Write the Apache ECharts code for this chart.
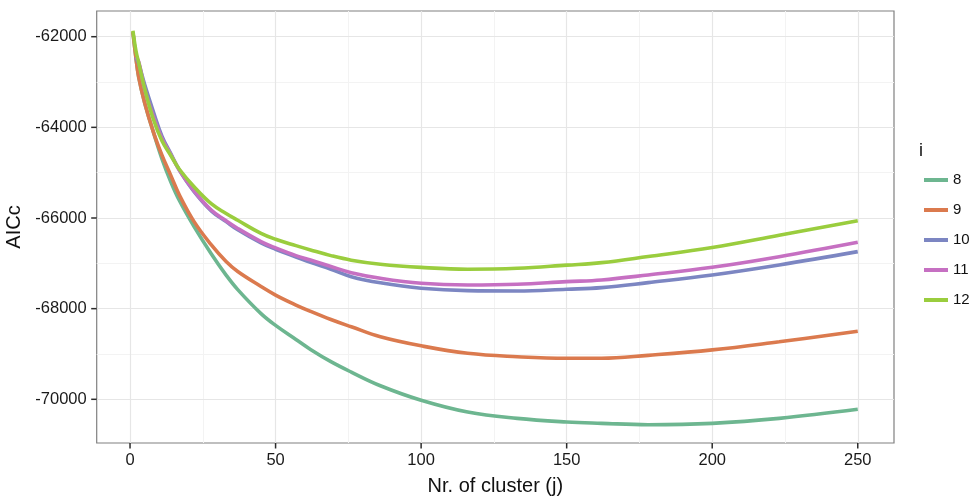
<!DOCTYPE html>
<html>
<head>
<meta charset="utf-8">
<script src="https://cdn.jsdelivr.net/npm/echarts@6/dist/echarts.min.js"></script>
<style>html,body{margin:0;padding:0;background:#fff}#c{width:970px;height:498px}</style>
</head>
<body>
<div id="c"></div>
<script>
// Number of clusters j (x values)
var clusterJ = [1, 2, 3, 5, 8, 11, 14, 17, 22, 28, 33, 37, 45, 50, 57, 62, 69, 76, 86, 100, 116, 133, 150, 162, 178, 200, 223, 250];
// AICc per series i
var aic8  = [-61900, -62450, -62900, -63450, -64100, -64700, -65200, -65620, -66190, -66800, -67260, -67580, -68110, -68370, -68680, -68900, -69170, -69400, -69700, -70020, -70280, -70420, -70500, -70530, -70560, -70530, -70420, -70220];
var aic9  = [-61900, -62450, -62900, -63450, -64100, -64620, -65060, -65500, -66080, -66600, -66960, -67180, -67510, -67700, -67920, -68060, -68240, -68400, -68620, -68820, -68985, -69060, -69095, -69095, -69030, -68910, -68730, -68500];
var aic10 = [null, -62450, -62600, -63050, -63650, -64200, -64580, -64950, -65420, -65850, -66080, -66260, -66550, -66690, -66860, -66980, -67130, -67294, -67430, -67550, -67603, -67610, -67572, -67537, -67426, -67257, -67036, -66742];
var aic11 = [null, -62450, -62550, -63150, -63750, -64250, -64600, -64950, -65400, -65830, -66060, -66230, -66520, -66660, -66830, -66926, -67070, -67206, -67330, -67440, -67477, -67462, -67404, -67367, -67257, -67087, -66853, -66536];
var aic12 = [-61870, -62300, -62580, -63140, -63820, -64300, -64620, -64930, -65310, -65690, -65900, -66050, -66340, -66470, -66610, -66705, -66830, -66930, -67020, -67090, -67130, -67110, -67040, -66985, -66850, -66650, -66380, -66060];
var seriesNames = ['8', '9', '10', '11', '12'];
var xTicks = [0, 50, 100, 150, 200, 250];
var xMinor = [25, 75, 125, 175, 225];
var yTicks = [-70000, -68000, -66000, -64000, -62000];
var yMinor = [-69000, -67000, -65000, -63000];
var xRange = [-11.45, 262.45];
var yRange = [-70964, -61433];

var colors = ['#6db690', '#db7a4e', '#7c86c2', '#c670c2', '#9acd3e'];
var allVals = [aic8, aic9, aic10, aic11, aic12];

var FONT = '"Liberation Sans", Arial, sans-serif';
var chart = echarts.init(document.getElementById('c'), null, {renderer: 'canvas'});

function pairs(v) { return clusterJ.map(function (x, k) { return [x, v[k]]; }).filter(function(p){return p[1]!=null;}); }

var gridMarks = [];
xMinor.forEach(function (v) { gridMarks.push({xAxis: v, lineStyle: {color: '#f3f3f3', width: 1}}); });
yMinor.forEach(function (v) { gridMarks.push({yAxis: v, lineStyle: {color: '#f3f3f3', width: 1}}); });
xTicks.forEach(function (v) { gridMarks.push({xAxis: v, lineStyle: {color: '#e6e6e6', width: 1.2}}); });
yTicks.forEach(function (v) { gridMarks.push({yAxis: v, lineStyle: {color: '#e6e6e6', width: 1.2}}); });

var series = [{
  type: 'line', data: [], silent: true, z: 0,
  markLine: {silent: true, z: 0, symbol: ['none', 'none'], label: {show: false}, emphasis: {disabled: true}, animation: false, data: gridMarks, lineStyle: {type: 'solid'}}
}];
seriesNames.forEach(function (n, i) {
  series.push({
    name: n, type: 'line', data: pairs(allVals[i]), showSymbol: false, symbol: 'none',
    smooth: 0.4, z: 2 + i,
    lineStyle: {color: colors[i], width: 3.6}, itemStyle: {color: colors[i]}
  });
});

var axisLineStyle = {show: false, onZero: false};

chart.setOption({
  animation: false,
  backgroundColor: '#fff',
  color: colors,
  title: {text: 'i', left: 914, top: 137, textStyle: {fontFamily: FONT, fontSize: 18, fontWeight: 'normal', color: '#111'}},
  legend: {
    orient: 'vertical', left: 919, top: 165, itemWidth: 24, itemHeight: 4, icon: 'rect', itemGap: 10,
    data: seriesNames,
    textStyle: {fontFamily: FONT, fontSize: 15, color: '#111', lineHeight: 20, padding: [0, 0, 0, 0]},
    selectedMode: false
  },
  grid: {left: 96.7, right: 76, top: 11, bottom: 55, outerBoundsMode: 'none', containLabel: false, show: true, borderColor: '#808080', borderWidth: 1.2, backgroundColor: 'transparent'},
  xAxis: {
    type: 'value', min: xRange[0], max: xRange[1],
    name: 'Nr. of cluster (j)', nameLocation: 'middle', nameGap: 33,
    nameTextStyle: {fontFamily: FONT, fontSize: 20, color: '#111'},
    axisLine: axisLineStyle,
    axisTick: {show: false},
    axisLabel: {customValues: xTicks, margin: 9, fontFamily: FONT, fontSize: 16.5, color: '#1a1a1a', formatter: function (v) { return String(v); }},
    splitLine: {show: false}
  },
  yAxis: {
    type: 'value', min: yRange[0], max: yRange[1],
    name: 'AICc', nameLocation: 'middle', nameGap: 70, nameRotate: 90,
    nameTextStyle: {fontFamily: FONT, fontSize: 20, color: '#111'},
    axisLine: axisLineStyle,
    axisTick: {show: false},
    axisLabel: {customValues: yTicks, margin: 10, fontFamily: FONT, fontSize: 16.5, color: '#1a1a1a', formatter: function (v) { return String(v); }},
    splitLine: {show: false}
  },
  series: series
});

// tick marks placed through the chart's own axis scales
var tickGraphics = [];
xTicks.forEach(function (v) {
  var p = chart.convertToPixel({gridIndex: 0}, [v, yRange[0]]);
  tickGraphics.push({type: 'line', z: 100, silent: true, shape: {x1: p[0], y1: p[1], x2: p[0], y2: p[1] + 5.5}, style: {stroke: '#2b2b2b', lineWidth: 1.5}});
});
yTicks.forEach(function (v) {
  var p = chart.convertToPixel({gridIndex: 0}, [xRange[0], v]);
  tickGraphics.push({type: 'line', z: 100, silent: true, shape: {x1: p[0] - 5.5, y1: p[1], x2: p[0], y2: p[1]}, style: {stroke: '#2b2b2b', lineWidth: 1.5}});
});
chart.setOption({graphic: {elements: tickGraphics}});
</script>
</body>
</html>
